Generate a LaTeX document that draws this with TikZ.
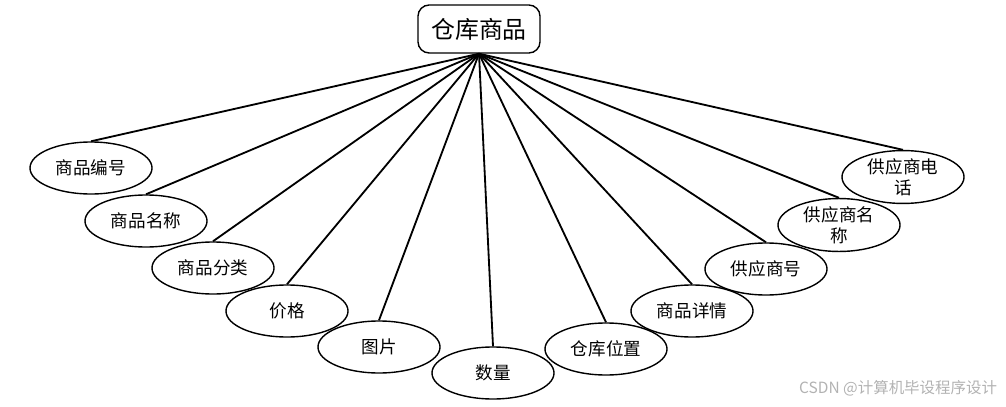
\documentclass[tikz,border=0pt]{standalone}
\usepackage{fontspec}
\setmainfont{Noto Sans CJK SC}
\usetikzlibrary{shapes,arrows}

\begin{document}
\begin{tikzpicture}[x=0.025cm,y=-0.025cm,
  attr/.style={draw,line width=1pt,ellipse,minimum width=3.05cm,minimum height=1.3cm,inner sep=0pt,
    align=center,font=\fontsize{12.5}{15}\selectfont},
  entity/.style={draw,line width=1pt,rounded corners=0.28cm,minimum width=3.05cm,minimum height=1.2cm,
    font=\fontsize{17}{20}\selectfont},
  link/.style={line width=1.3pt}]
  \useasboundingbox (0,0) rectangle (1006,407);
  \node[entity] (goods) at (479,29) {仓库商品};

  \node[attr] (a1) at (91,168) {商品编号};
  \node[attr] (a2) at (146,221) {商品名称};
  \node[attr] (a3) at (213,268) {商品分类};
  \node[attr] (a4) at (287,311) {价格};
  \node[attr] (a5) at (379,347) {图片};
  \node[attr] (a6) at (493,373) {数量};
  \node[attr] (a7) at (606,349) {仓库位置};
  \node[attr] (a8) at (692,311) {商品详情};
  \node[attr] (a9) at (766,269) {供应商号};
  \node[attr] (a10) at (839,225) {供应商名\\称};
  \node[attr] (a11) at (903,177) {供应商电\\话};

  \draw[link] (goods.south)--(a1.north);
  \draw[link] (goods.south)--(a2.north);
  \draw[link] (goods.south)--(a3.north);
  \draw[link] (goods.south)--(a4.north);
  \draw[link] (goods.south)--(a5.north);
  \draw[link] (goods.south)--(a6.north);
  \draw[link] (goods.south)--(a7.north);
  \draw[link] (goods.south)--(a8.north);
  \draw[link] (goods.south)--(a9.north);
  \draw[link] (goods.south)--(a10.north);
  \draw[link] (goods.south)--(a11.north);

  \node[text=gray!60,font=\fontsize{11}{13}\selectfont,anchor=east] (mark) at (1002,388) {CSDN @计算机毕设程序设计};
\end{tikzpicture}
\end{document}
